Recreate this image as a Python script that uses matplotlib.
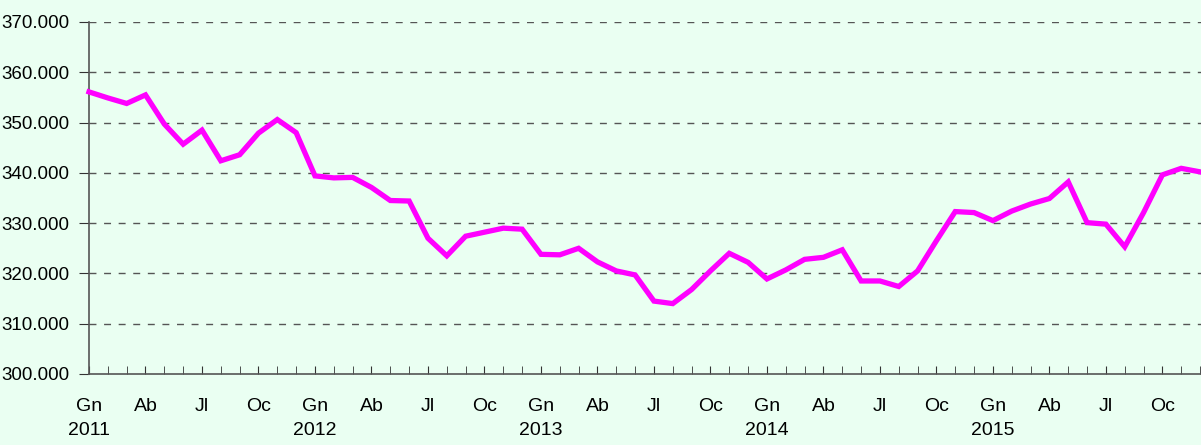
import numpy as np, matplotlib
matplotlib.use('Agg')
import matplotlib.pyplot as plt

plt.rcParams['font.family'] = ['Liberation Sans', 'DejaVu Sans']

years = ['2011', '2012', '2013', '2014', '2015']
month_labels = ['Gn', 'Ab', 'Jl', 'Oc']
values = [
    356.1, 354.9, 353.8, 355.5, 349.7, 345.7, 348.5, 342.4, 343.6, 347.9, 350.6, 348.0,
    339.4, 339.0, 339.1, 337.1, 334.5, 334.4, 327.0, 323.5, 327.4, 328.2, 329.0, 328.8,
    323.8, 323.7, 325.0, 322.3, 320.5, 319.7, 314.5, 314.0, 316.8, 320.5, 324.0, 322.2,
    318.9, 320.7, 322.8, 323.2, 324.7, 318.5, 318.5, 317.4, 320.5, 326.5, 332.3, 332.1,
    330.5, 332.4, 333.8, 334.9, 338.2, 330.1, 329.8, 325.3, 332.1, 339.6, 340.9, 340.2,
]
values = np.array(values) * 1000
x = np.arange(len(values))

bg = '#EAFFF2'
fig = plt.figure(figsize=(12.01, 4.45), dpi=100, facecolor=bg)
ax = fig.add_axes([89/1201, 1 - 374/445, (1201 - 89)/1201, 352/445])
ax.set_facecolor(bg)

ax.plot(x, values, color='#FF00FF', lw=3.8, solid_joinstyle='miter', clip_on=False, zorder=3)

ax.set_ylim(300000, 370000)
ax.set_xlim(0, 59.05)
yt = np.arange(300000, 370001, 10000)
ax.set_yticks(yt)
ax.set_yticklabels([f'{v/1000:.3f}' for v in yt], fontsize=13.5)
for v in yt[1:]:
    ax.axhline(v, color='#555555', lw=1.0, ls=(0, (5, 5.5)), zorder=1)

# month ticks, labels every quarter with years under January
ax.set_xticks(x, minor=True)
major = [i for i in x if i % 3 == 0]
ax.set_xticks(major)
labs = []
for i in major:
    m = month_labels[(i % 12) // 3]
    labs.append(m + '\n' + years[i // 12] if i % 12 == 0 else m + '\n')
ax.set_xticklabels(labs, fontsize=14, linespacing=1.55)

ax.tick_params(axis='x', which='both', direction='in', length=6, color='#333333', pad=17)
ax.tick_params(axis='y', direction='out', length=7, color='#333333', pad=7)
for s in ['top', 'right']:
    ax.spines[s].set_visible(False)
for s in ['left', 'bottom']:
    ax.spines[s].set_color('#555555')
    ax.spines[s].set_linewidth(1.2)

fig.savefig('out.png', dpi=100, facecolor=bg)
